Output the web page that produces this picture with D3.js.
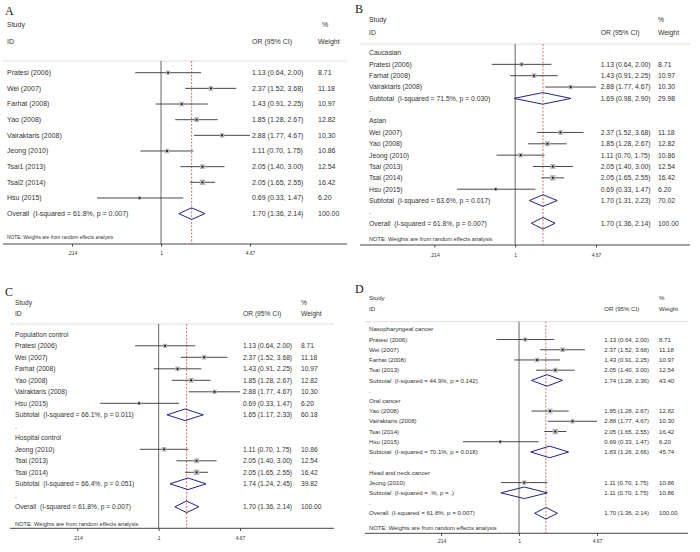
<!DOCTYPE html>
<html>
<head>
<meta charset="utf-8">
<script src="https://cdn.jsdelivr.net/npm/d3@7"></script>
<style>
  body { margin: 0; background: #fff; }
  svg { display: block; }
  text { font-family: "Liberation Sans", Arial, sans-serif; fill: #333; white-space: pre; }
  .letter { font-family: "Liberation Serif", "Times New Roman", serif; fill: #222; }
</style>
</head>
<body>
<svg id="chart" width="700" height="552"></svg>
<script>
// study level data (same nine studies in every panel)
const studyNames = ["Pratesi (2006)", "Wei (2007)", "Farhat (2008)", "Yao (2008)", "Vairaktaris (2008)",
  "Jeong (2010)", "Tsai1 (2013)", "Tsai2 (2014)", "Hsu (2015)"];
const groupedNames = ["Pratesi (2006)", "Wei (2007)", "Farhat (2008)", "Yao (2008)", "Vairaktaris (2008)",
  "Jeong (2010)", "Tsai (2013)", "Tsai (2014)", "Hsu (2015)"];
const studyOR = [1.13, 2.37, 1.43, 1.85, 2.88, 1.11, 2.05, 2.05, 0.69];
const studyLo = [0.64, 1.52, 0.91, 1.28, 1.77, 0.70, 1.40, 1.65, 0.33];
const studyHi = [2.00, 3.68, 2.25, 2.67, 4.67, 1.75, 3.00, 2.55, 1.47];
const studyWeight = [8.71, 11.18, 10.97, 12.82, 10.30, 10.86, 12.54, 16.42, 6.20];

const overallOR = [1.70, 1.36, 2.14];
const overallStats = ["61.8%", "0.007"];

const tickValues = [0.214, 1, 4.67];
const tickLabels = [".214", "1", "4.67"];

// B: ethnicity
const groupsB = ["Caucasian", "Asian"];
const membersB = [[0, 2, 4], [1, 3, 5, 6, 7, 8]];
const subB = [[1.69, 0.98, 2.90], [1.70, 1.31, 2.23]];
const subStatsB = [["71.5%", "0.030"], ["63.6%", "0.017"]];
const subWeightB = [29.98, 70.02];

// C: source of control
const groupsC = ["Population control", "Hospital control"];
const membersC = [[0, 1, 2, 3, 4, 8], [5, 6, 7]];
const subC = [[1.65, 1.17, 2.33], [1.74, 1.24, 2.45]];
const subStatsC = [["66.1%", "0.011"], ["66.4%", "0.051"]];
const subWeightC = [60.18, 39.82];

// D: cancer type
const groupsD = ["Nasopharyngeal cancer", "Oral cancer", "Head and neck cancer"];
const membersD = [[0, 1, 2, 6], [3, 4, 7, 8], [5]];
const subD = [[1.74, 1.28, 2.36], [1.83, 1.26, 2.66], [1.11, 0.70, 1.75]];
const subStatsD = [["44.9%", "0.142"], ["70.1%", "0.018"], [".%", "."]];
const subWeightD = [43.40, 45.74, 10.86];

function buildRows(names, groups, members, subs, subStats, subW) {
  const rows = [];
  if (!groups) {
    names.forEach((n, i) => rows.push({ type: "study", label: n, or: studyOR[i], lo: studyLo[i], hi: studyHi[i], w: studyWeight[i] }));
  } else {
    groups.forEach((g, gi) => {
      rows.push({ type: "head", label: g });
      members[gi].forEach((i) => rows.push({ type: "study", label: names[i], or: studyOR[i], lo: studyLo[i], hi: studyHi[i], w: studyWeight[i] }));
      rows.push({ type: "sum", label: `Subtotal  (I-squared = ${subStats[gi][0]}, p = ${subStats[gi][1]})`,
        or: subs[gi][0], lo: subs[gi][1], hi: subs[gi][2], w: subW[gi] });
      rows.push({ type: "head", label: "." });
    });
  }
  rows.push({ type: "sum", label: `Overall  (I-squared = ${overallStats[0]}, p = ${overallStats[1]})`,
    or: overallOR[0], lo: overallOR[1], hi: overallOR[2], w: 100 });
  return rows;
}

const panels = [
  { letter: "A", lx: 5, ly: 15, rows: buildRows(studyNames),
    studyY: 25, idY: 42, sepY: 61, y0: 72.7, step: 15.66, x0: 72, x1: 250, axisY: 244, tickY: 253,
    sep: [3, 347], tx: 7, cx: 252, wx: 318, px: 322, noteY: 237, fs: 7, nfs: 4.9 },
  { letter: "B", lx: 355, ly: 13, rows: buildRows(groupedNames, groupsB, membersB, subB, subStatsB, subWeightB),
    studyY: 20, idY: 33, sepY: 44, y0: 53, step: 11.35, x0: 434.3, x1: 596, axisY: 245, tickY: 255,
    sep: [360, 690], tx: 369, cx: 600.7, wx: 658, px: 658, noteY: 239.3, fs: 6.8, nfs: 5.7 },
  { letter: "C", lx: 5, ly: 296, rows: buildRows(groupedNames, groupsC, membersC, subC, subStatsC, subWeightC),
    studyY: 302.7, idY: 313.3, sepY: 324, y0: 334.3, step: 11.5, x0: 77.3, x1: 240, axisY: 528.3, tickY: 538.3,
    sep: [10, 334], tx: 15, cx: 243, wx: 301, px: 301, noteY: 523.7, fs: 6.7, nfs: 5.7 },
  { letter: "D", lx: 355, ly: 293, rows: buildRows(groupedNames, groupsD, membersD, subD, subStatsD, subWeightD),
    studyY: 298.3, idY: 309.3, sepY: 321.7, y0: 329.3, step: 10.22, x0: 441, x1: 597, axisY: 533.3, tickY: 541.7,
    sep: [365, 688], tx: 369, cx: 604.3, wx: 659, px: 659, noteY: 528.3, fs: 6.1, nfs: 5.9 },
];

const svg = d3.select("#chart");
const f2 = (v) => v.toFixed(2);

panels.forEach((p) => {
  const g = svg.append("g");
  const x = d3.scaleLog().domain([tickValues[0], tickValues[2]]).range([p.x0, p.x1]);
  const y = d3.scaleLinear().domain([0, 1]).range([p.y0, p.y0 + p.step]);

  g.append("text").attr("class", "letter").attr("x", p.lx).attr("y", p.ly)
    .attr("font-size", 12).text(p.letter);

  // header
  const head = [
    { t: "Study", x: p.tx, y: p.studyY }, { t: "ID", x: p.tx, y: p.idY },
    { t: "OR (95% CI)", x: p.cx, y: p.idY }, { t: "%", x: p.px, y: p.studyY }, { t: "Weight", x: p.wx, y: p.idY },
  ];
  g.selectAll(".hd").data(head).join("text").attr("x", (d) => d.x).attr("y", (d) => d.y)
    .attr("dy", "0.35em").attr("font-size", p.fs).text((d) => d.t);

  g.append("line").attr("x1", p.sep[0]).attr("x2", p.sep[1]).attr("y1", p.sepY).attr("y2", p.sepY)
    .attr("stroke", "#d4d4d4").attr("stroke-width", 0.8);

  // null line and overall line
  g.append("line").attr("x1", x(1)).attr("x2", x(1)).attr("y1", p.sepY).attr("y2", p.axisY)
    .attr("stroke", "#555").attr("stroke-width", 0.9);
  g.append("line").attr("x1", x(overallOR[0])).attr("x2", x(overallOR[0])).attr("y1", p.sepY).attr("y2", p.axisY)
    .attr("stroke", "#c0504d").attr("stroke-width", 0.8).attr("stroke-dasharray", "2,1.5");

  const studies = p.rows.map((r, i) => ({ ...r, i })).filter((r) => r.type === "study");
  const sums = p.rows.map((r, i) => ({ ...r, i })).filter((r) => r.type === "sum");

  g.selectAll(".ci").data(studies).join("line")
    .attr("x1", (d) => x(d.lo)).attr("x2", (d) => x(d.hi))
    .attr("y1", (d) => y(d.i)).attr("y2", (d) => y(d.i))
    .attr("stroke", "#333").attr("stroke-width", 0.9);
  g.selectAll(".box").data(studies).join("rect")
    .attr("x", (d) => x(d.or) - 0.68 * Math.sqrt(d.w)).attr("y", (d) => y(d.i) - 0.68 * Math.sqrt(d.w))
    .attr("width", (d) => 1.36 * Math.sqrt(d.w)).attr("height", (d) => 1.36 * Math.sqrt(d.w))
    .attr("fill", "#b8b8b8");
  g.selectAll(".dot").data(studies).join("rect")
    .attr("x", (d) => x(d.or) - 0.9).attr("y", (d) => y(d.i) - 0.9)
    .attr("width", 1.8).attr("height", 1.8).attr("fill", "#111");

  g.selectAll(".dia").data(sums).join("path")
    .attr("d", (d) => {
      const yy = y(d.i), h = 5.8;
      return `M${x(d.lo)},${yy}L${x(d.or)},${yy - h}L${x(d.hi)},${yy}L${x(d.or)},${yy + h}Z`;
    })
    .attr("fill", "none").attr("stroke", "#22228a").attr("stroke-width", 1);

  // row texts
  const rowsI = p.rows.map((r, i) => ({ ...r, i }));
  g.selectAll(".lab").data(rowsI).join("text")
    .attr("x", p.tx).attr("y", (d) => y(d.i)).attr("dy", "0.35em").attr("font-size", p.fs).text((d) => d.label);
  const valued = rowsI.filter((r) => r.type !== "head");
  g.selectAll(".cit").data(valued).join("text")
    .attr("x", p.cx).attr("y", (d) => y(d.i)).attr("dy", "0.35em").attr("font-size", p.fs)
    .text((d) => `${f2(d.or)} (${f2(d.lo)}, ${f2(d.hi)})`);
  g.selectAll(".wt").data(valued).join("text")
    .attr("x", p.wx).attr("y", (d) => y(d.i)).attr("dy", "0.35em").attr("font-size", p.fs)
    .text((d) => f2(d.w));

  g.append("text").attr("x", p.tx).attr("y", p.noteY).attr("dy", "0.35em").attr("font-size", p.nfs)
    .text("NOTE: Weights are from random effects analysis");

  // x axis
  g.append("line").attr("x1", p.sep[0]).attr("x2", p.sep[1]).attr("y1", p.axisY).attr("y2", p.axisY)
    .attr("stroke", "#444").attr("stroke-width", 1);
  const ax = g.append("g").attr("transform", `translate(0,${p.axisY})`)
    .call(d3.axisBottom(x).tickValues(tickValues).tickFormat((d, i) => tickLabels[i]).tickSize(2.5).tickPadding(3));
  ax.select(".domain").remove();
  ax.selectAll("line").attr("stroke", "#444");
  ax.selectAll("text").attr("font-size", 5).attr("fill", "#333")
    .attr("y", p.tickY - p.axisY).attr("dy", "0.35em");
});
</script>
</body>
</html>
